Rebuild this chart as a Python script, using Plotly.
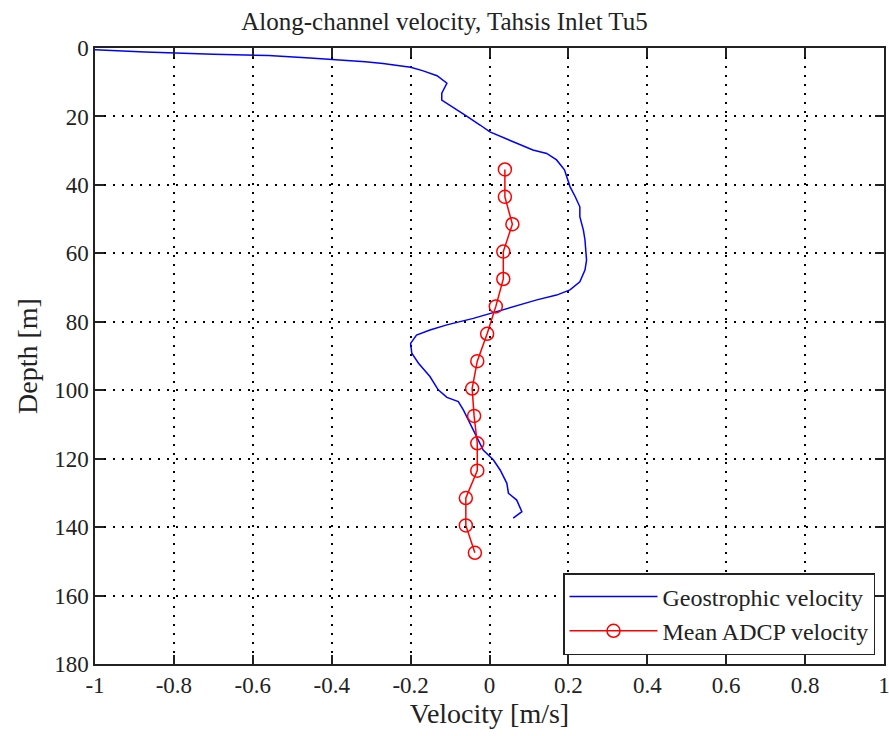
import plotly.graph_objects as go

# Geostrophic velocity profile
geo_v = [-1.0, -0.873, -0.70, -0.56, -0.455, -0.37, -0.315, -0.27, -0.235, -0.20, -0.17, -0.133,
         -0.108, -0.121, -0.121, -0.10, -0.057, -0.024, 0.001, 0.06, 0.11, 0.145, 0.17, 0.19,
         0.204, 0.217, 0.229, 0.229, 0.238, 0.242, 0.246, 0.242, 0.229, 0.204, 0.17, 0.12, 0.06,
         0.001, -0.041, -0.108, -0.151, -0.185, -0.20, -0.197, -0.18, -0.151, -0.13, -0.108,
         -0.079, -0.066, -0.049, -0.032, -0.016, 0.01, 0.027, 0.044, 0.048, 0.069, 0.082, 0.06]
geo_d = [0.5, 1.2, 1.8, 2.2, 2.9, 3.5, 4.0, 4.5, 5.0, 5.6, 6.6, 8.1,
         10.3, 13.2, 15.2, 16.7, 20.0, 22.5, 24.5, 27.4, 29.8, 30.8, 32.7, 35.6,
         40.5, 43.4, 46.4, 49.3, 53.2, 56.1, 62.0, 64.9, 68.3, 70.7, 72.2, 73.6, 75.6,
         77.5, 79.0, 80.9, 82.4, 83.9, 86.3, 89.2, 92.1, 96.0, 99.9, 102.1,
         103.3, 105.8, 109.7, 113.6, 117.5, 120.4, 123.3, 127.2, 130.1, 132.1, 135.5, 137.4]

# Mean ADCP velocity
adcp_v = [0.039, 0.039, 0.058, 0.035, 0.035, 0.016, -0.006, -0.031, -0.044, -0.039,
          -0.031, -0.031, -0.060, -0.060, -0.037]
adcp_d = [35.5, 43.5, 51.5, 59.5, 67.5, 75.5, 83.5, 91.5, 99.5, 107.5,
          115.5, 123.5, 131.5, 139.5, 147.5]

x_ticks = [-1, -0.8, -0.6, -0.4, -0.2, 0, 0.2, 0.4, 0.6, 0.8, 1]
x_labels = ["-1", "-0.8", "-0.6", "-0.4", "-0.2", "0", "0.2", "0.4", "0.6", "0.8", "1"]
y_ticks = [0, 20, 40, 60, 80, 100, 120, 140, 160, 180]

fig = go.Figure()
fig.add_trace(go.Scatter(x=geo_v, y=geo_d, mode="lines", name="Geostrophic velocity",
                         line=dict(color="#0000ff", width=1.5)))
fig.add_trace(go.Scatter(x=adcp_v, y=adcp_d, mode="lines+markers", name="Mean ADCP velocity",
                         line=dict(color="#ff0000", width=1.5),
                         marker=dict(symbol="circle-open", size=13, color="#ff0000",
                                     line=dict(width=1.5, color="#ff0000"))))

font = "Liberation Serif, Times New Roman, serif"
axis_common = dict(
    showgrid=True, gridcolor="black", griddash="2px,7px", gridwidth=1.5,
    zeroline=False, showline=True, linecolor="#222222", linewidth=1.5, mirror="ticks",
    ticks="inside", ticklen=9, tickcolor="#222222", tickwidth=1.5,
    tickfont=dict(size=23), automargin=False, ticklabeloverflow="allow",
)
fig.update_layout(
    width=889, height=736,
    margin=dict(l=95, r=5, t=48, b=72),
    paper_bgcolor="white", plot_bgcolor="white",
    font=dict(family=font, size=23, color="#222222"),
    title=dict(text="Along-channel velocity, Tahsis Inlet Tu5", x=0.5, xanchor="center",
               y=1 - 21 / 736, yanchor="middle", font=dict(size=25)),
    showlegend=True,
    legend=dict(x=0.9886, y=0.0146, xanchor="right", yanchor="bottom",
                bgcolor="white", bordercolor="#222222", borderwidth=1.5,
                font=dict(size=24), itemwidth=88, tracegroupgap=0),
    xaxis=dict(range=[-1, 1], tickvals=x_ticks, ticktext=x_labels,
               title=dict(text="Velocity [m/s]", standoff=6), **axis_common),
    yaxis=dict(range=[180, 0], tickvals=y_ticks,
               title=dict(text="Depth [m]", standoff=8), **axis_common),
)

fig.write_html("out.html", post_script="document.body.style.margin='0';",
               config={"displayModeBar": False})
